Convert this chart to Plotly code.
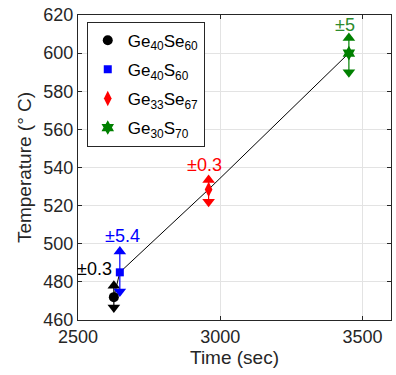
import plotly.graph_objects as go

names = ["Ge<sub>40</sub>Se<sub>60</sub>", "Ge<sub>40</sub>S<sub>60</sub>",
         "Ge<sub>33</sub>Se<sub>67</sub>", "Ge<sub>30</sub>S<sub>70</sub>"]
time_sec = [2626, 2647, 2959, 3452]
temp_c = [472, 485, 528.5, 600]
temp_upper = [478, 496, 533.5, 608]
temp_lower = [466.5, 475, 522, 590]
err_labels = ["±0.3", "±5.4", "±0.3", "±5"]
label_x = [2626, 2658, 2946, 3437]
label_y = [487, 504, 541.5, 614.5]
label_anchor = ["right", "center", "center", "center"]
colors = ["black", "blue", "red", "green"]
text_colors = ["black", "blue", "red", "#2e8b2e"]
symbols = ["circle", "square", "diamond-tall", "hexagram"]
sizes = [10, 8, 11, 11]

x_ticks = [2500, 3000, 3500]
y_ticks = [460, 480, 500, 520, 540, 560, 580, 600, 620]

fig = go.Figure()

# connecting line
fig.add_trace(go.Scatter(x=time_sec, y=temp_c, mode="lines",
                         line=dict(color="black", width=1), showlegend=False,
                         hoverinfo="skip"))

for i in range(4):
    fig.add_trace(go.Scatter(
        x=[time_sec[i], time_sec[i]], y=[temp_lower[i], temp_upper[i]],
        mode="lines", line=dict(color=colors[i], width=1.2), showlegend=False))
    fig.add_trace(go.Scatter(
        x=[time_sec[i]], y=[temp_upper[i]], mode="markers",
        marker=dict(symbol="triangle-up", size=11, color=colors[i]), showlegend=False))
    fig.add_trace(go.Scatter(
        x=[time_sec[i]], y=[temp_lower[i]], mode="markers",
        marker=dict(symbol="triangle-down", size=11, color=colors[i]), showlegend=False))

for i in range(4):
    fig.add_trace(go.Scatter(
        x=[time_sec[i]], y=[temp_c[i]], mode="markers", name=names[i],
        legendgroup=f"g{i}",
        marker=dict(symbol=symbols[i], size=sizes[i], color=colors[i])))
    fig.add_annotation(x=label_x[i], y=label_y[i], text=err_labels[i],
                       showarrow=False, xanchor=label_anchor[i], yanchor="middle",
                       font=dict(size=18, color=text_colors[i]))

axis_common = dict(showline=True, linecolor="#262626", linewidth=1, mirror="ticks",
                   ticks="inside", ticklen=4, tickcolor="#262626",
                   showgrid=True, gridcolor="#e3e3e3", gridwidth=1, zeroline=False,
                   tickfont=dict(size=18, color="#262626"))

fig.update_xaxes(range=[2500, 3600], tickvals=x_ticks,
                 title=dict(text="Time (sec)", font=dict(size=19, color="#262626"), standoff=5),
                 **axis_common)
fig.update_yaxes(range=[460, 620], tickvals=y_ticks,
                 title=dict(text="Temperature (° C)", font=dict(size=19, color="#262626"), standoff=6),
                 **axis_common)

fig.update_layout(
    width=396, height=375,
    margin=dict(l=78, r=5, t=15, b=55),
    paper_bgcolor="white", plot_bgcolor="white",
    font=dict(family="Liberation Sans, Arial, sans-serif", color="#262626"),
    legend=dict(x=0.028, y=0.978, xanchor="left", yanchor="top",
                bgcolor="white", bordercolor="#262626", borderwidth=1,
                font=dict(size=17, color="black"), tracegroupgap=4,
                itemwidth=30),
    showlegend=True,
)

fig.write_html("out.html")
